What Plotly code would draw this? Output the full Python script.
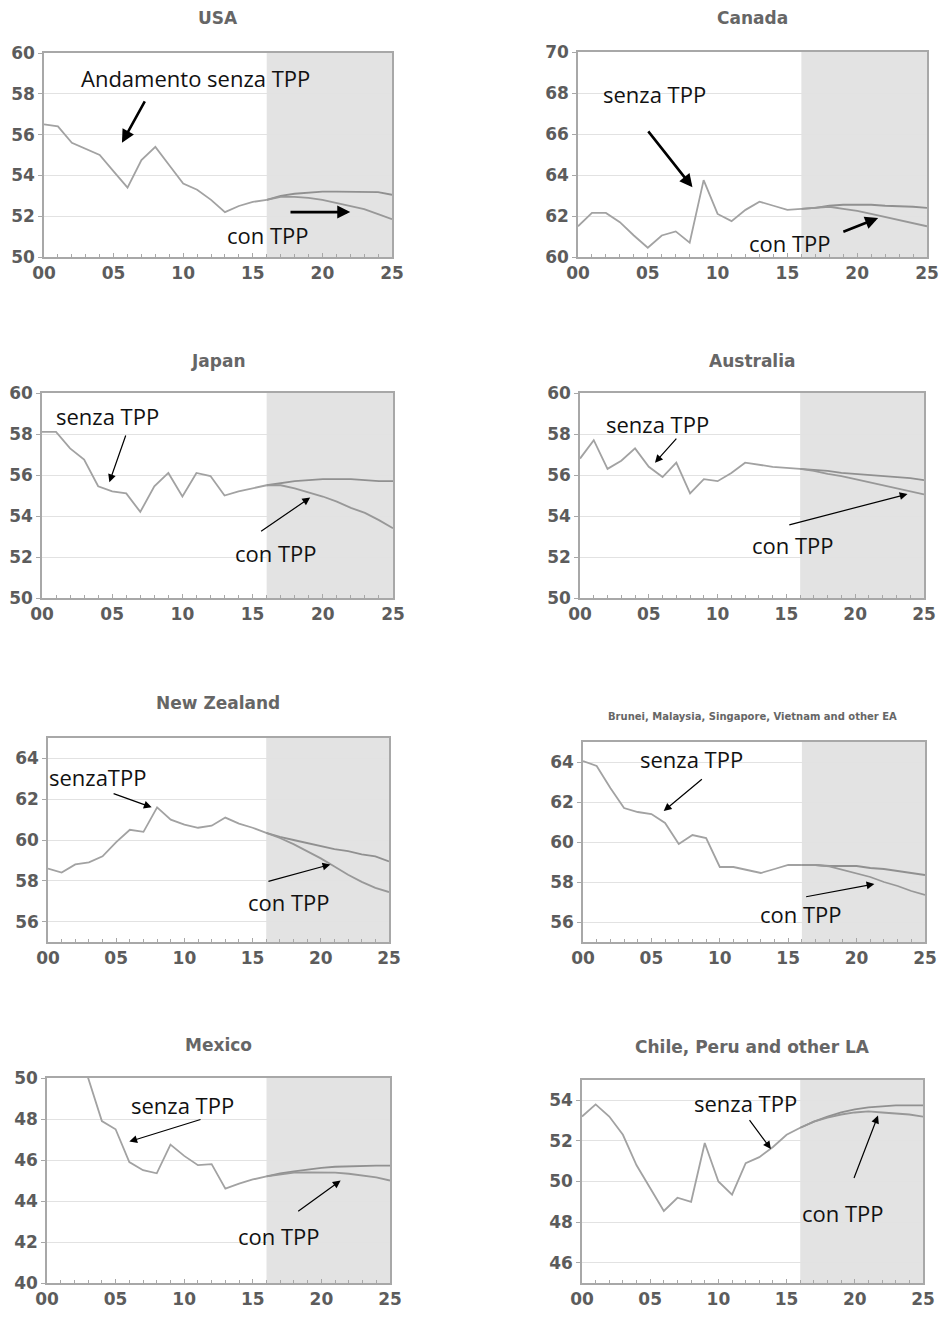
import plotly.graph_objects as go

# ---------------- data ----------------
years_hist = list(range(0, 17))          # 2000..2016
years_proj = list(range(16, 26))         # 2016..2025
tick_vals = [0, 5, 10, 15, 20, 25]
tick_text = ["00", "05", "10", "15", "20", "25"]

titles = ["USA", "Canada", "Japan", "Australia", "New Zealand",
          "Brunei, Malaysia, Singapore, Vietnam and other EA",
          "Mexico", "Chile, Peru and other LA"]

usa_hist = [56.5, 56.4, 55.6, 55.3, 55.0, 54.2, 53.4, 54.75, 55.4, 54.5, 53.6, 53.3, 52.8, 52.2, 52.5, 52.7, 52.8]
usa_senza = [52.8, 53.0, 53.1, 53.15, 53.2, 53.2, 53.2, 53.2, 53.18, 53.05]
usa_con = [52.8, 52.95, 52.95, 52.9, 52.8, 52.65, 52.5, 52.35, 52.1, 51.85]

can_hist = [61.5, 62.15, 62.15, 61.7, 61.05, 60.45, 61.05, 61.25, 60.7, 63.75, 62.1, 61.75, 62.3, 62.7, 62.5, 62.3, 62.35]
can_senza = [62.35, 62.4, 62.5, 62.55, 62.55, 62.55, 62.5, 62.48, 62.45, 62.4]
can_con = [62.35, 62.4, 62.45, 62.35, 62.25, 62.1, 61.95, 61.8, 61.65, 61.5]

jpn_hist = [58.1, 58.1, 57.3, 56.75, 55.45, 55.2, 55.1, 54.2, 55.45, 56.1, 54.95, 56.1, 55.95, 55.0, 55.2, 55.35, 55.5]
jpn_senza = [55.5, 55.6, 55.7, 55.75, 55.8, 55.8, 55.8, 55.75, 55.7, 55.7]
jpn_con = [55.5, 55.5, 55.35, 55.15, 54.95, 54.7, 54.4, 54.15, 53.8, 53.4]

aus_hist = [56.8, 57.7, 56.3, 56.7, 57.3, 56.4, 55.9, 56.6, 55.1, 55.8, 55.7, 56.1, 56.6, 56.5, 56.4, 56.35, 56.3]
aus_senza = [56.3, 56.25, 56.2, 56.1, 56.05, 56.0, 55.95, 55.9, 55.85, 55.75]
aus_con = [56.3, 56.2, 56.05, 55.95, 55.8, 55.65, 55.5, 55.35, 55.2, 55.05]

nzl_hist = [58.6, 58.4, 58.8, 58.9, 59.2, 59.9, 60.5, 60.4, 61.6, 61.0, 60.75, 60.6, 60.7, 61.1, 60.8, 60.6, 60.35]
nzl_senza = [60.35, 60.15, 60.0, 59.85, 59.7, 59.55, 59.45, 59.3, 59.2, 58.95]
nzl_con = [60.35, 60.1, 59.8, 59.45, 59.1, 58.7, 58.3, 57.95, 57.65, 57.45]

ea_hist = [64.05, 63.8, 62.7, 61.7, 61.5, 61.4, 60.95, 59.9, 60.35, 60.2, 58.75, 58.75, 58.6, 58.45, 58.65, 58.85, 58.85]
ea_senza = [58.85, 58.85, 58.8, 58.8, 58.8, 58.7, 58.65, 58.55, 58.45, 58.35]
ea_con = [58.85, 58.85, 58.78, 58.6, 58.45, 58.25, 58.0, 57.8, 57.55, 57.35]

mex_hist = [50.8, 51.2, 51.0, 50.0, 47.9, 47.5, 45.9, 45.5, 45.35, 46.75, 46.2, 45.75, 45.8, 44.6, 44.85, 45.05, 45.2]
mex_senza = [45.2, 45.35, 45.45, 45.55, 45.62, 45.67, 45.7, 45.72, 45.73, 45.73]
mex_con = [45.2, 45.3, 45.38, 45.4, 45.4, 45.38, 45.33, 45.25, 45.15, 45.0]

chl_hist = [53.2, 53.8, 53.2, 52.3, 50.8, 49.7, 48.55, 49.2, 49.0, 51.9, 50.0, 49.35, 50.9, 51.2, 51.7, 52.3, 52.65]
chl_senza = [52.65, 52.95, 53.2, 53.4, 53.55, 53.65, 53.7, 53.75, 53.75, 53.75]
chl_con = [52.65, 52.95, 53.15, 53.3, 53.4, 53.45, 53.4, 53.35, 53.3, 53.2]

hist_series = [usa_hist, can_hist, jpn_hist, aus_hist, nzl_hist, ea_hist, mex_hist, chl_hist]
senza_series = [usa_senza, can_senza, jpn_senza, aus_senza, nzl_senza, ea_senza, mex_senza, chl_senza]
con_series = [usa_con, can_con, jpn_con, aus_con, nzl_con, ea_con, mex_con, chl_con]

y_ranges = [[50, 60], [60, 70], [50, 60], [50, 60], [55, 65], [55, 65], [40, 50], [45, 55]]
y_ticks = [list(range(50, 61, 2)), list(range(60, 71, 2)), list(range(50, 61, 2)), list(range(50, 61, 2)),
           list(range(56, 65, 2)), list(range(56, 65, 2)), list(range(40, 51, 2)), list(range(46, 55, 2))]

# annotation labels: (text, x, y) and arrows: (tail_x, tail_y, head_x, head_y)
senza_text = ["Andamento senza TPP", "senza TPP", "senza TPP", "senza TPP", "senzaTPP", "senza TPP", "senza TPP", "senza TPP"]
senza_lbl_xy = [(10.9, 58.77), (5.5, 67.95), (4.7, 58.9), (5.6, 58.5), (3.6, 63.1), (7.9, 64.15), (9.9, 48.7), (12.0, 53.85)]
senza_arrow = [(7.3, 57.7, 5.6, 55.6), (4.95, 66.2, 8.2, 63.4), (6.0, 58.0, 4.8, 55.65), (7.1, 57.85, 5.45, 56.6),
               (4.7, 62.3, 7.6, 61.6), (8.8, 63.2, 5.9, 61.55), (11.3, 48.0, 6.0, 46.9), (12.2, 53.1, 13.85, 51.6)]
con_lbl_xy = [(16.1, 51.1), (15.2, 60.7), (16.7, 52.2), (15.5, 52.6), (17.7, 56.95), (15.9, 56.4), (16.9, 42.3), (19.1, 48.45)]
con_arrow = [(17.6, 52.2, 22.0, 52.2), (18.9, 61.2, 21.5, 61.9), (15.5, 53.2, 19.1, 54.9), (15.1, 53.55, 23.8, 55.07),
             (16.05, 57.95, 20.7, 58.8), (16.2, 57.25, 21.3, 57.9), (18.2, 43.45, 21.4, 45.0), (19.9, 50.1, 21.7, 53.25)]

# ---------------- layout geometry (pixels) ----------------
W, H = 942, 1318
boxes = [(44, 392, 53, 257), (578, 927, 52, 257),
         (42, 393, 393, 598), (580, 924, 393, 598),
         (48, 389, 738, 942), (583, 925, 742, 942),
         (47, 390, 1078, 1283), (582, 923, 1080, 1283)]
title_pos = [(218, 18), (752, 18), (218, 361), (752, 361), (218, 703), (752, 717), (218, 1045), (752, 1047)]

fig = go.Figure()
annotations = []
shapes = []
line_col = "#a2a2a2"
axis_col = "#a8a8a8"
tick_font = dict(family="DejaVu Sans", size=17, color="#5c5c5c", weight="bold")
lbl_font = dict(family="Open Sans", size=22, color="#111111")

for i in range(8):
    n = i + 1
    xs = "x" if n == 1 else f"x{n}"
    ys = "y" if n == 1 else f"y{n}"
    x0, x1, t, b = boxes[i]
    dom_x = [x0 / W, x1 / W]
    dom_y = [1 - b / H, 1 - t / H]

    fig.add_trace(go.Scatter(x=years_hist, y=hist_series[i], mode="lines",
                             line=dict(color=line_col, width=1.8), xaxis=xs, yaxis=ys, showlegend=False))
    fig.add_trace(go.Scatter(x=years_proj, y=senza_series[i], mode="lines",
                             line=dict(color="#909090", width=1.8), xaxis=xs, yaxis=ys, showlegend=False))
    fig.add_trace(go.Scatter(x=years_proj, y=con_series[i], mode="lines",
                             line=dict(color="#989898", width=1.8), xaxis=xs, yaxis=ys, showlegend=False))

    xa = dict(domain=dom_x, range=[0, 25], anchor=ys, tickvals=tick_vals, ticktext=tick_text,
              showgrid=False, zeroline=False, showline=True, linecolor=axis_col, linewidth=1.5, mirror=True,
              ticks="inside", ticklen=4, tickcolor=axis_col, tickfont=tick_font, automargin=False,
              minor=dict(dtick=1, ticks="inside", ticklen=3, tickcolor=axis_col), fixedrange=True)
    ya = dict(domain=dom_y, range=y_ranges[i], anchor=xs, tickvals=y_ticks[i],
              showgrid=True, gridcolor="#e2e2e2", gridwidth=1.2, zeroline=False, showline=True,
              linecolor=axis_col, linewidth=1.5, mirror=True, ticks="outside", ticklen=4, automargin=False,
              tickcolor=axis_col, tickfont=tick_font, fixedrange=True)
    fig.layout["xaxis" if n == 1 else f"xaxis{n}"] = xa
    fig.layout["yaxis" if n == 1 else f"yaxis{n}"] = ya

    shapes.append(dict(type="rect", xref=xs, yref=f"{ys} domain", x0=16, x1=25, y0=0, y1=1,
                       fillcolor="#e3e3e3", line=dict(width=0), layer="below"))

    # title
    tx, ty = title_pos[i]
    annotations.append(dict(text=titles[i], xref="paper", yref="paper", x=tx / W, y=1 - ty / H,
                            showarrow=False, xanchor="center", yanchor="middle",
                            font=dict(family="DejaVu Sans", size=10 if i == 5 else 17,
                                      color="#666666", weight="bold")))

    thick = i < 2
    aw = 2.6 if thick else 1.2
    asz = 1.0 if thick else 1.3
    # senza label and arrow
    lx, ly = senza_lbl_xy[i]
    annotations.append(dict(text=senza_text[i], xref=xs, yref=ys, x=lx, y=ly, showarrow=False,
                            xanchor="center", yanchor="middle", font=lbl_font))
    sx, sy, hx, hy = senza_arrow[i]
    annotations.append(dict(text="", xref=xs, yref=ys, x=hx, y=hy, axref=xs, ayref=ys, ax=sx, ay=sy,
                            showarrow=True, arrowhead=2, arrowwidth=aw, arrowsize=asz, arrowcolor="#000000",
                            standoff=0, startstandoff=0))
    # con label and arrow
    lx, ly = con_lbl_xy[i]
    annotations.append(dict(text="con TPP", xref=xs, yref=ys, x=lx, y=ly, showarrow=False,
                            xanchor="center", yanchor="middle", font=lbl_font))
    sx, sy, hx, hy = con_arrow[i]
    annotations.append(dict(text="", xref=xs, yref=ys, x=hx, y=hy, axref=xs, ayref=ys, ax=sx, ay=sy,
                            showarrow=True, arrowhead=2, arrowwidth=aw, arrowsize=asz, arrowcolor="#000000",
                            standoff=0, startstandoff=0))

fig.update_layout(width=W, height=H, margin=dict(l=0, r=0, t=0, b=0, pad=0, autoexpand=False),
                  paper_bgcolor="white", plot_bgcolor="white",
                  annotations=annotations, shapes=shapes, showlegend=False)

fig.write_html("out.html", config={"displayModeBar": False},
               post_script="document.body.style.margin='0';document.body.style.overflow='hidden';")
